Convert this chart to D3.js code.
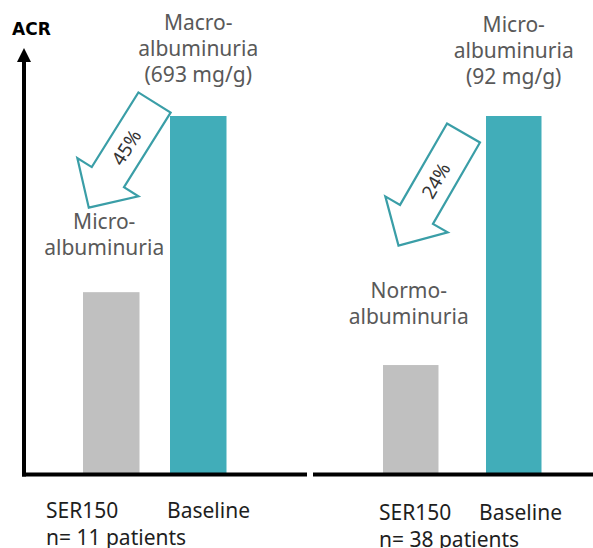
<!DOCTYPE html>
<html>
<head>
<meta charset="utf-8">
<script src="https://cdn.jsdelivr.net/npm/d3@7"></script>
<style>
  html, body { margin: 0; padding: 0; background: #fff; }
  svg { display: block; font-family: "Noto Sans", "Open Sans", sans-serif; }
</style>
</head>
<body>
<svg id="chart" width="593" height="548"></svg>
<script>
// Albumin-to-creatinine ratio (ACR), baseline vs. SER150, two cohorts
const categories = ["SER150", "Baseline"];
const cohortLabels = ["n= 11 patients", "n= 38 patients"];
const baselineACR = [693, 92];          // mg/g
const ser150ACR = [352, 28];            // mg/g, on each cohort's own scale
const reductionPct = [45, 24];
const baselineClass = [["Macro-", "albuminuria"], ["Micro-", "albuminuria"]];
const ser150Class = [["Micro-", "albuminuria"], ["Normo-", "albuminuria"]];

const TEAL = "#41adb9";
const TEAL_LINE = "#3a9ea7";
const GREY = "#c0c0c0";
const FS = 21;

const svg = d3.select("#chart");

// panel layout
const panels = [
  { xRange: [83, 226.5], pad: 0.3506, axis: [22, 307], labelDx: [-37, -3], labelY: 518,
    topDy: 0, arrow: { dx: -15.5, dy: -13.5, len: 124, angle: 122, textAt: 53 }, lowDx: -7, lowDy: -37 },
  { xRange: [383, 541.5], pad: 0.4612, axis: [313, 593], labelDx: [-4, -7], labelY: 520,
    topDy: 2, arrow: { dx: -22.5, dy: 17, len: 130, angle: 120, textAt: 55 }, lowDx: -2, lowDy: -41 }
];
const yBase = 474, yTop = 116;

// y axis with arrowhead (left panel only)
svg.append("line")
  .attr("x1", 24).attr("x2", 24).attr("y1", 476.5).attr("y2", 60)
  .attr("stroke", "#000").attr("stroke-width", 4);
svg.append("path")
  .attr("d", d3.line()([[17, 62], [24, 48], [31, 62]]) + "Z")
  .attr("fill", "#000");
svg.append("text")
  .attr("x", 12).attr("y", 35)
  .attr("font-family", "'DejaVu Sans', sans-serif")
  .attr("font-size", 17).attr("font-weight", "bold").attr("fill", "#000")
  .text("ACR");

panels.forEach((p, i) => {
  const x = d3.scaleBand().domain(categories).range(p.xRange).paddingInner(p.pad).paddingOuter(0);
  const y = d3.scaleLinear().domain([0, baselineACR[i]]).range([yBase, yTop]);
  const values = [ser150ACR[i], baselineACR[i]];
  const g = svg.append("g");

  g.selectAll("rect.bar")
    .data(categories)
    .join("rect")
    .attr("class", "bar")
    .attr("x", d => x(d))
    .attr("width", x.bandwidth())
    .attr("y", (d, j) => y(values[j]))
    .attr("height", (d, j) => y(0) - y(values[j]))
    .attr("fill", (d, j) => j === 0 ? GREY : TEAL);

  // baseline axis line
  g.append("line")
    .attr("x1", p.axis[0]).attr("x2", p.axis[1])
    .attr("y1", 474.5).attr("y2", 474.5)
    .attr("stroke", "#000").attr("stroke-width", 4);

  // category labels and cohort size
  g.selectAll("text.cat")
    .data(categories)
    .join("text")
    .attr("class", "cat")
    .attr("x", (d, j) => x(d) + p.labelDx[j])
    .attr("y", p.labelY)
    .attr("font-size", FS).attr("fill", "#1e1e1e")
    .text(d => d);
  g.append("text")
    .attr("x", x(categories[0]) + p.labelDx[0])
    .attr("y", p.labelY + 27)
    .attr("font-size", FS).attr("fill", "#1e1e1e")
    .text(cohortLabels[i]);

  // baseline classification above the baseline bar
  const bx = x("Baseline") + x.bandwidth() / 2;
  const topLines = baselineClass[i].concat([`(${baselineACR[i]} mg/g)`]);
  g.append("text")
    .attr("text-anchor", "middle")
    .attr("font-size", FS).attr("fill", "#595959")
    .selectAll("tspan")
    .data(topLines)
    .join("tspan")
    .attr("x", bx)
    .attr("y", (d, k) => y(baselineACR[i]) - 86 + p.topDy + k * 26)
    .text(d => d);

  // classification after SER150 above the SER150 bar
  const sx = x("SER150") + x.bandwidth() / 2 + p.lowDx;
  const sTop = y(ser150ACR[i]);
  g.append("text")
    .attr("text-anchor", "middle")
    .attr("font-size", FS).attr("fill", "#595959")
    .selectAll("tspan")
    .data(ser150Class[i])
    .join("tspan")
    .attr("x", sx)
    .attr("y", (d, k) => sTop + p.lowDy - (ser150Class[i].length - 1 - k) * 26)
    .text(d => d);

  // block arrow showing the reduction
  const a = p.arrow;
  const w = 19, hw = 36, hl = 36, L = a.len;
  const shape = [[0, -w], [L - hl, -w], [L - hl, -hw], [L, 0], [L - hl, hw], [L - hl, w], [0, w]];
  const ag = g.append("g")
    .attr("transform", `translate(${x("Baseline") + a.dx},${y(baselineACR[i]) + a.dy}) rotate(${a.angle})`);
  ag.append("path")
    .attr("d", d3.line()(shape) + "Z")
    .attr("fill", "#fff")
    .attr("stroke", TEAL_LINE)
    .attr("stroke-width", 2.2)
    .attr("stroke-linejoin", "miter");
  ag.append("text")
    .attr("transform", `translate(${a.textAt},0) rotate(180)`)
    .attr("text-anchor", "middle")
    .attr("dy", "0.35em")
    .attr("font-size", 19).attr("fill", "#333")
    .text(`${reductionPct[i]}%`);
});
</script>
</body>
</html>
